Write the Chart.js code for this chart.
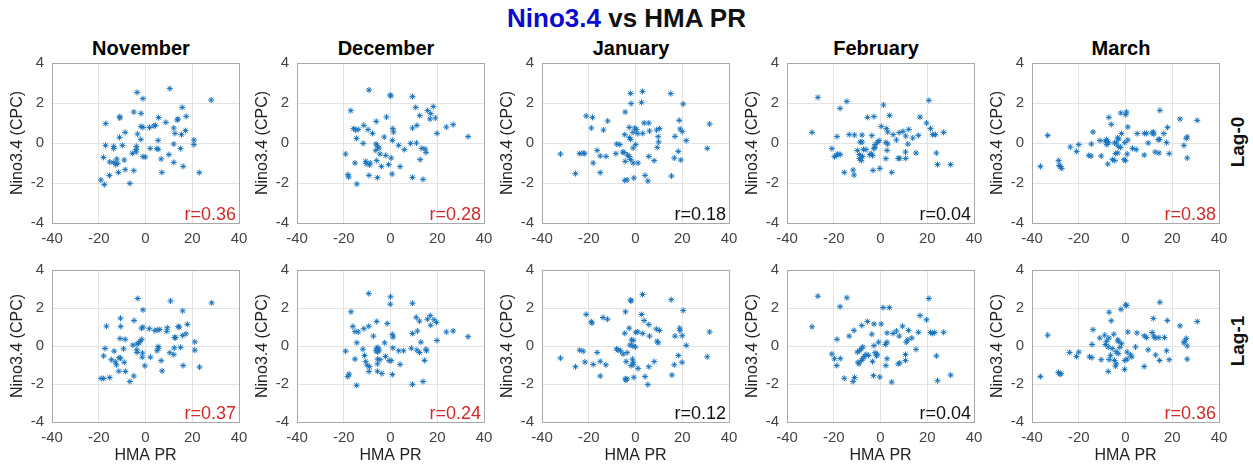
<!DOCTYPE html>
<html>
<head>
<meta charset="utf-8">
<script src="https://cdn.jsdelivr.net/npm/chart.js@4.4.0/dist/chart.umd.min.js"></script>
<style>
  body { margin: 0; background: #fff; width: 1253px; height: 466px; position: relative; overflow: hidden; font-family: "Liberation Sans", Arial, sans-serif; }
  #title { position: absolute; left: 0; top: 3px; width: 1253px; text-align: center; font-weight: bold; font-size: 26px; color: #111; }
  #title span { color: #0a0ad2; }
  .lag { position: absolute; width: 70px; text-align: center; font-weight: bold; font-size: 19px; color: #111; transform: rotate(-90deg); }
  .month { position: absolute; top: 37px; width: 160px; text-align: center; font-weight: bold; font-size: 20px; color: #000; }
  canvas { position: absolute; }
</style>
</head>
<body>
<div id="title"><span>Nino3.4</span> vs HMA PR</div>
<div class="lag" style="left:1203px; top:131px;">Lag-0</div>
<div class="lag" style="left:1203px; top:330px;">Lag-1</div>
<script>
const months = ["November", "December", "January", "February", "March"];
const xTicks = [-40, -20, 0, 20, 40];
const yTicks = [-4, -2, 0, 2, 4];
const rLag0 = ["0.36", "0.28", "0.18", "0.04", "0.38"];
const rLag1 = ["0.37", "0.24", "0.12", "0.04", "0.36"];
const sigLag0 = [true, true, false, false, true];
const sigLag1 = [true, true, false, false, true];

// [HMA PR, Nino3.4] pairs
const novLag0 = [[-3.6,2.53],[10.4,2.72],[-1.1,2.22],[28.1,2.15],[15.7,1.78],[-5,1.55],[-1.9,1.48],[-11,1.32],[-11,1.25],[5.6,1.27],[13.9,1.2],[17.4,1.33],[13.6,1.15],[8.7,1.03],[-17,0.97],[-1.9,0.83],[-1.1,0.78],[1.7,0.78],[3.6,0.85],[4.3,0.88],[12.1,0.75],[17.1,0.62],[-8.7,0.53],[-3.4,0.45],[12.6,0.48],[15.4,0.42],[-11.1,0.28],[-2,0.18],[20.7,0.15],[5.4,0.13],[-17.1,-0.12],[-13.6,-0.17],[-9.9,-0.12],[-3.9,-0.17],[-4,-0.33],[12.1,-0.05],[20.7,-0.08],[15,-0.28],[-13.6,-0.28],[2,-0.27],[4.9,-0.28],[5.4,-0.32],[-4,-0.45],[-5.6,-0.52],[-18,-0.72],[-1.1,-0.68],[-0.1,-0.7],[10,-0.58],[6.7,-0.8],[-12.3,-0.8],[-15.3,-0.95],[-13.6,-0.97],[-11.9,-1.02],[-9.1,-0.85],[-12.7,-1.08],[12.1,-0.97],[16.1,-1.17],[-8.7,-1.33],[-11.6,-1.47],[-5,-1.38],[7,-1.47],[23,-1.48],[-15.4,-1.62],[-19.1,-1.85],[-17.6,-2.08],[-6.7,-2.02]];
const decLag0 = [[-9.2,2.65],[-0.1,2.4],[0.1,2.35],[9.4,2.32],[-17,1.62],[10.8,1.78],[18.3,1.82],[15.9,1.62],[17.2,1.47],[12.5,1.37],[-1.7,1.3],[19.2,1.25],[16.9,1.2],[-6.1,1.08],[26.8,0.92],[23.9,0.8],[11.3,0.88],[9.4,0.75],[-11.4,0.88],[-15.8,0.72],[-14.9,0.65],[-13.8,0.68],[-9.6,0.67],[-7.7,0.48],[1,0.72],[1.3,0.55],[19.9,0.48],[33.2,0.32],[-14.5,0.23],[-2.7,0.3],[0.8,0.13],[-11.7,-0.02],[-6.2,-0.05],[-5.6,-0.15],[-4.9,-0.25],[-6.3,-0.37],[3.5,-0.12],[5.9,-0.33],[8.6,-0.02],[11.1,0],[13.4,-0.27],[14.8,-0.3],[15.2,-0.47],[-19.2,-0.55],[-4.5,-0.55],[-2,-0.62],[0.3,-0.75],[-5.9,-0.88],[-10.6,-0.92],[-8.7,-1],[-9,-1.1],[-15.2,-1],[-10.4,-1.03],[-3.9,-1.17],[-0.8,-1.08],[4.1,-1.18],[12.7,-0.83],[-18.2,-1.58],[-17.9,-1.7],[-9.2,-1.62],[-5.6,-1.73],[0.7,-1.55],[9.4,-1.72],[13.9,-1.82],[-14.4,-2.05]];
const janLag0 = [[-2.1,2.48],[3,2.58],[15.1,2.47],[-1.9,1.97],[2.6,2.03],[20.4,1.95],[-4.4,1.55],[-21.1,1.35],[-18.4,1.28],[-11.9,1.1],[18.7,1.13],[3.7,1],[5.7,1],[31.7,0.95],[-18.9,0.75],[-13.7,0.65],[-2.7,0.78],[-0.3,0.75],[0.4,0.67],[-1.1,0.53],[1,0.47],[3.1,0.48],[6,0.6],[9,0.65],[10.3,0.72],[19.1,0.7],[20,0.57],[16.9,0.33],[-4.6,0.42],[-2.6,0.27],[-2.1,0.18],[9.7,0.32],[21.7,0.12],[9.9,0.05],[-8,-0.05],[-6.7,-0.08],[0.1,-0.08],[-1,-0.25],[9.3,-0.22],[30.7,-0.27],[-16.4,-0.37],[-32.1,-0.55],[-23.9,-0.53],[-22.4,-0.5],[-21.7,-0.53],[-15.1,-0.65],[-12.6,-0.67],[-8.4,-0.53],[-5.4,-0.45],[-4.9,-0.48],[-3.4,-0.6],[-2.7,-0.67],[-2.1,-0.82],[-4.4,-0.92],[18.3,-0.42],[16.6,-0.75],[19.4,-0.85],[5.7,-0.67],[8,-0.88],[-1,-1],[1.1,-1],[-18.1,-1],[-25.7,-1.53],[-15.1,-1.48],[4.1,-1.62],[15.4,-1.65],[-4.6,-1.87],[-3.6,-1.85],[-0.7,-1.75],[5.3,-1.9]];
const febLag0 = [[-26.8,2.28],[-14.4,2.08],[20.7,2.13],[1.3,1.9],[-17.3,1.73],[3.9,1.38],[-5.6,1.28],[-2.8,1.32],[16.9,1.3],[19.7,1],[0.3,0.83],[2.5,0.72],[3.1,0.55],[5.4,0.42],[21.4,0.72],[22.3,0.42],[23.5,0.42],[27,0.53],[-29.3,0.53],[-18.6,0.32],[-13.4,0.42],[-11.1,0.4],[-7.9,0.4],[-3.7,0.37],[8,0.52],[9.6,0.58],[12.1,0.68],[10.8,0.35],[13.8,0.25],[16.2,0.38],[6.8,0.15],[-8.7,0.05],[-7.9,0.05],[-0.6,0.12],[-1.3,0.03],[-2.3,-0.08],[2.3,0.03],[3.1,-0.05],[11.7,-0.05],[-20.8,-0.28],[-9.9,-0.37],[-7.3,-0.32],[-6.2,-0.33],[-2.4,-0.22],[-2.8,-0.28],[2.8,-0.37],[-18.3,-0.55],[-17.2,-0.58],[-19.7,-0.68],[-18.7,-0.62],[-9,-0.58],[-7.7,-0.67],[-4.6,-0.58],[-3.9,-0.55],[-3.4,-0.63],[15.2,-0.5],[10.7,-0.45],[23.9,-0.5],[-9,-0.78],[-8.2,-0.88],[2.3,-0.78],[7.6,-0.77],[8.2,-0.77],[10.8,-0.77],[24.4,-1.08],[30,-1.08],[-0.3,-1.27],[-3.2,-1.37],[-11.7,-1.35],[-15.5,-1.47],[4.8,-1.47],[-11.3,-1.6]];
const marLag0 = [[14.7,1.63],[-2,1.5],[0.4,1.55],[0.1,1.42],[-7.1,1.28],[23.3,1.2],[30.7,1.13],[-6.1,0.93],[1,0.8],[18,0.78],[-13.9,0.55],[5,0.47],[8.1,0.48],[9,0.48],[11.9,0.55],[12.1,0.45],[11.4,0.5],[16.4,0.47],[-1.7,0.47],[-33.3,0.38],[26.4,0.3],[26,0.23],[-3.4,0.25],[-2.9,0.2],[-8.1,0.17],[-10.9,0.12],[-8.6,0.08],[-7.3,0.02],[-4.7,0],[-3.9,0],[1,0.15],[-0.3,0.02],[9.7,0],[14,0.17],[14.6,0.18],[17.6,0.02],[-20,-0.08],[-14.6,-0.05],[-23.6,-0.2],[25,-0.12],[-8,-0.08],[-3.1,-0.17],[-2.1,-0.22],[3,-0.27],[4.6,-0.33],[-20.9,-0.42],[-4.3,-0.53],[-3.3,-0.5],[0.7,-0.55],[-15.7,-0.62],[-14.7,-0.65],[-10.4,-0.65],[8,-0.6],[12.7,-0.45],[14.3,-0.5],[18.7,-0.53],[26.4,-0.75],[-5.6,-0.83],[-4.6,-0.88],[-0.6,-0.83],[0,-0.88],[-7.6,-1.05],[-28.6,-0.88],[-28.4,-1.12],[-27.9,-1.17],[-27.3,-1.27],[-36.4,-1.17]];
const novLag1 = [[-3.3,2.5],[10.7,2.37],[28.3,2.27],[-1.1,1.9],[15.9,1.85],[-10.7,1.46],[-4.9,1.34],[17.9,1.14],[-16.7,1.04],[-10.6,1.03],[-1.7,0.94],[-1.1,0.99],[1.6,0.91],[4,0.81],[5,0.84],[6.1,0.87],[9.3,0.96],[9.1,0.77],[14,1.03],[14.4,0.99],[17.3,0.64],[15.9,0.55],[12.4,0.45],[12.9,0.44],[-10.9,0.39],[-8.7,0.35],[-1.6,0.35],[-2.3,0.24],[21.1,0.22],[-3.6,0.1],[-5.4,0.05],[-2.9,0.17],[5.4,-0.03],[5.6,-0.12],[12.3,-0.1],[15,-0.07],[21.1,-0.22],[-17.3,-0.13],[-9.4,-0.15],[-13.4,-0.27],[-3.7,-0.2],[-3.6,-0.34],[4.9,-0.25],[10.4,-0.35],[-1.3,-0.37],[12.1,-0.45],[-17.9,-0.52],[-11.3,-0.62],[-10.7,-0.64],[-14.6,-0.72],[-1.4,-0.59],[2.1,-0.59],[-12.9,-0.84],[-12.4,-0.99],[-9.1,-0.86],[6.7,-0.77],[-0.3,-1.04],[16.1,-1.03],[23.1,-1.11],[-11.4,-1.33],[-8.6,-1.34],[7.1,-1.31],[-5,-1.58],[-19,-1.71],[-17.9,-1.71],[-15.3,-1.66],[-6.7,-1.87]];
const decLag1 = [[-9.3,2.76],[0,2.59],[-0.1,2.2],[9.4,2.25],[-16.9,1.8],[11,1.51],[17,1.6],[15.8,1.41],[18.6,1.38],[19.7,1.24],[17.2,1.09],[12.4,1.31],[-5.9,1.29],[-1.4,1.18],[-16.1,1.03],[-9.3,1.04],[-11.4,0.91],[-15.2,0.76],[-13.8,0.74],[26.8,0.79],[23.9,0.74],[11.5,0.79],[9.4,0.66],[0.8,0.61],[1.1,0.47],[-7.3,0.52],[33.2,0.49],[19.9,0.29],[-14.4,0.17],[-2.5,0.17],[13,0.2],[1,-0.1],[-19.2,-0.27],[-11.8,-0.17],[-5.9,-0.12],[-6.2,-0.25],[-5.4,-0.08],[-4.8,-0.22],[-5.5,-0.32],[3.5,-0.25],[5.6,-0.25],[8.9,-0.12],[11.3,-0.22],[12.4,-0.34],[15.2,-0.17],[15.4,-0.25],[-11.1,-0.5],[-2.1,-0.55],[-15.2,-0.69],[-5.5,-0.69],[-4.5,-0.72],[-10.6,-0.82],[-0.6,-0.77],[0.3,-0.77],[14.6,-0.76],[-10,-1.01],[-9,-1.09],[-5.6,-0.94],[4.1,-0.97],[-9.2,-1.34],[-5.6,-1.33],[-3.7,-1.45],[0.8,-1.5],[-17.7,-1.48],[-18.3,-1.61],[-14.5,-2.07],[9.4,-2.02],[13.9,-1.87]];
const janLag1 = [[3,2.71],[-2.1,2.42],[-1.9,2.37],[15.3,2.44],[-4.3,1.8],[20.4,1.87],[-21.1,1.66],[2.6,1.66],[-13.9,1.5],[-12,1.41],[-18.9,1.28],[-18.6,1.21],[3.7,1.34],[5.7,1.13],[-2.7,0.94],[8.9,0.89],[10.3,0.82],[18.9,0.94],[19,0.81],[0.1,0.72],[1,0.74],[3.1,0.66],[-4.6,0.67],[31.7,0.74],[6,0.52],[16.9,0.52],[20,0.54],[-1.7,0.32],[-1,0.29],[9.3,0.25],[9.7,0.17],[-2.4,0.05],[-1.1,0],[0,-0.05],[21.7,0.03],[-8.1,-0.15],[-7.6,-0.22],[-6.4,-0.25],[-23.9,-0.22],[-22.4,-0.27],[-16.4,-0.34],[-3.6,-0.35],[-5.3,-0.42],[18.3,-0.5],[-32.1,-0.64],[30.7,-0.57],[-1.3,-0.69],[-21.6,-0.84],[-15.1,-0.81],[-12.7,-0.99],[-18.1,-0.97],[-4,-0.82],[-1,-0.86],[8,-0.82],[-1.9,-1.03],[-1,-0.99],[16.6,-0.99],[19.9,-0.86],[5.7,-1.09],[1.1,-1.18],[-25.7,-1.09],[-15.1,-1.58],[4.1,-1.61],[15.6,-1.53],[-0.7,-1.65],[-4.4,-1.73],[-3.6,-1.73],[-4.1,-1.8],[5.3,-2.03]];
const febLag1 = [[-26.8,2.62],[-14.4,2.54],[20.7,2.5],[-17.3,2.07],[1.1,2.02],[3.8,2.02],[16.9,1.6],[19.7,1.38],[-5.6,1.29],[-8,1.08],[-2.8,1.16],[0.3,1.16],[9.4,1.04],[-29.3,1.01],[-11.3,0.82],[12,0.82],[6.8,0.79],[2.8,0.69],[5.4,0.66],[8,0.52],[16.2,0.72],[21.4,0.71],[22.3,0.66],[23.2,0.71],[27,0.72],[-3.7,0.62],[-13.4,0.52],[-18.6,0.35],[13.4,0.42],[11.7,0.32],[11,0.2],[-0.8,0.2],[2.8,0.2],[2.1,0.08],[-2.8,0.02],[-7.6,-0.05],[-8.2,-0.15],[-9.9,-0.32],[-9,-0.25],[15.2,-0.18],[-20.8,-0.42],[-2.3,-0.35],[-1.4,-0.44],[-1.7,-0.52],[-6.2,-0.45],[-5.1,-0.49],[-7,-0.55],[23.9,-0.52],[10.7,-0.45],[-19.7,-0.67],[-17.2,-0.66],[-7.5,-0.67],[-8.2,-0.76],[2.8,-0.67],[10.7,-0.76],[-3.4,-0.82],[-9.2,-0.94],[-9.6,-0.86],[8.2,-0.89],[7.6,-0.94],[-18.7,-1.03],[2.3,-1.03],[30,-1.53],[-3,-1.56],[-0.3,-1.63],[-11.1,-1.66],[-15.5,-1.7],[-11.7,-1.87],[4.8,-1.9],[24.4,-1.83]];
const marLag1 = [[14.7,2.3],[0.4,2.13],[0.1,2.17],[-1.9,1.93],[-7,1.78],[11.9,1.45],[17.9,1.34],[-6.1,1.33],[30.7,1.29],[23.3,1.06],[-13.9,0.86],[1,0.74],[4.9,0.69],[-5,0.62],[8,0.54],[9,0.45],[11.4,0.71],[12.1,0.52],[12.7,0.42],[14.3,0.44],[16.7,0.45],[-33.3,0.57],[-8.9,0.57],[-11,0.42],[-8.1,0.25],[-7.1,0.42],[-3.3,0.32],[-3.1,0.25],[-1.7,0.12],[26,0.4],[25.3,0.25],[25,0.17],[26.4,0],[-8.6,0.08],[-14.3,0.08],[-7.4,-0.05],[-5.7,-0.13],[-2.4,-0.07],[4.3,-0.05],[9.7,-0.2],[17.6,-0.25],[-23.9,-0.34],[-20,-0.32],[-21,-0.55],[-4,-0.3],[-3.1,-0.4],[0.7,-0.32],[2.1,-0.47],[12.9,-0.47],[-15.4,-0.57],[-14.4,-0.61],[-10.4,-0.72],[-6.4,-0.49],[-7,-0.72],[-4.7,-0.76],[-0.3,-0.76],[0.7,-0.69],[2.7,-0.57],[14.6,-0.76],[18.7,-0.72],[26.4,-0.69],[-4,-0.94],[-4.3,-1.06],[8,-1.08],[-0.4,-1.23],[-7.4,-1.34],[-28.7,-1.39],[-28.1,-1.48],[-27.6,-1.46],[-36.4,-1.61]];

const panelsLag0 = [novLag0, decLag0, janLag0, febLag0, marLag0];
const panelsLag1 = [novLag1, decLag1, janLag1, febLag1, marLag1];

const blue = "#1a74bd";
const gridColor = "#e3e3e3";
const boxColor = "#a8a8a8";
const tickColor = "#444";
const fontFamily = "'Liberation Sans', Arial, sans-serif";

// writes the r value in the bottom right corner of the axes
const rLabel = {
  id: "rLabel",
  afterDatasetsDraw(chart, args, opts) {
    const ctx = chart.ctx;
    const a = chart.chartArea;
    ctx.save();
    ctx.font = "18px " + fontFamily;
    ctx.fillStyle = opts.color;
    ctx.textAlign = "right";
    ctx.textBaseline = "alphabetic";
    ctx.fillText("r=" + opts.text, a.right - 3, a.bottom - 3);
    ctx.restore();
  }
};

// month names over the top row, centred on each plot area
months.forEach((m, i) => {
  const d = document.createElement("div");
  d.className = "month";
  d.textContent = m;
  d.style.left = (i * 245 + 141 - 80) + "px";
  document.body.appendChild(d);
});

function makePanel(row, col, points) {
  const canvas = document.createElement("canvas");
  canvas.width = 255;
  canvas.height = row === 0 ? 217 : 213;
  canvas.style.left = (col * 245) + "px";
  canvas.style.top = (row === 0 ? 36 : 253) + "px";
  document.body.appendChild(canvas);

  const r = row === 0 ? rLag0[col] : rLag1[col];
  const sig = row === 0 ? sigLag0[col] : sigLag1[col];

  new Chart(canvas, {
    type: "scatter",
    data: {
      datasets: [{
        data: points.map(p => ({ x: p[0], y: p[1] })),
        pointStyle: "star",
        radius: 3,
        borderWidth: 1,
        borderColor: blue,
        backgroundColor: blue
      }]
    },
    options: {
      responsive: false,
      animation: false,
      devicePixelRatio: 1,
      layout: { padding: { left: 0, right: 16, top: row === 0 ? 27 : 10, bottom: 0 } },
      plugins: {
        legend: { display: false },
        tooltip: { enabled: false },
        rLabel: { text: r, color: sig ? "#d12a2a" : "#111" }
      },
      scales: {
        x: {
          type: "linear",
          min: -40, max: 40,
          afterBuildTicks: s => { s.ticks = xTicks.map(v => ({ value: v })); },
          afterFit: s => { s.height = row === 0 ? 30 : 44; },
          ticks: { color: tickColor, padding: 7, maxRotation: 0, font: { family: fontFamily, size: 15 } },
          grid: {
            drawTicks: false,
            color: c => (c.tick && Math.abs(c.tick.value) === 40) ? boxColor : gridColor
          },
          border: { display: true, color: boxColor },
          title: {
            display: row === 1,
            text: "HMA PR",
            color: "#222",
            font: { family: fontFamily, size: 16 },
            padding: { top: 0, bottom: 1 }
          }
        },
        y: {
          type: "linear",
          min: -4, max: 4,
          afterBuildTicks: s => { s.ticks = yTicks.map(v => ({ value: v })); },
          afterFit: s => { s.width = 52; },
          ticks: { color: tickColor, padding: 8, font: { family: fontFamily, size: 15 } },
          grid: {
            drawTicks: false,
            color: c => (c.tick && Math.abs(c.tick.value) === 4) ? boxColor : gridColor
          },
          border: { display: true, color: boxColor },
          title: {
            display: true,
            text: "Nino3.4 (CPC)",
            color: "#222",
            font: { family: fontFamily, size: 16 },
            padding: { top: 8, bottom: 0 }
          }
        }
      }
    },
    plugins: [rLabel]
  });
}

panelsLag0.forEach((pts, i) => makePanel(0, i, pts));
panelsLag1.forEach((pts, i) => makePanel(1, i, pts));
</script>
</body>
</html>
